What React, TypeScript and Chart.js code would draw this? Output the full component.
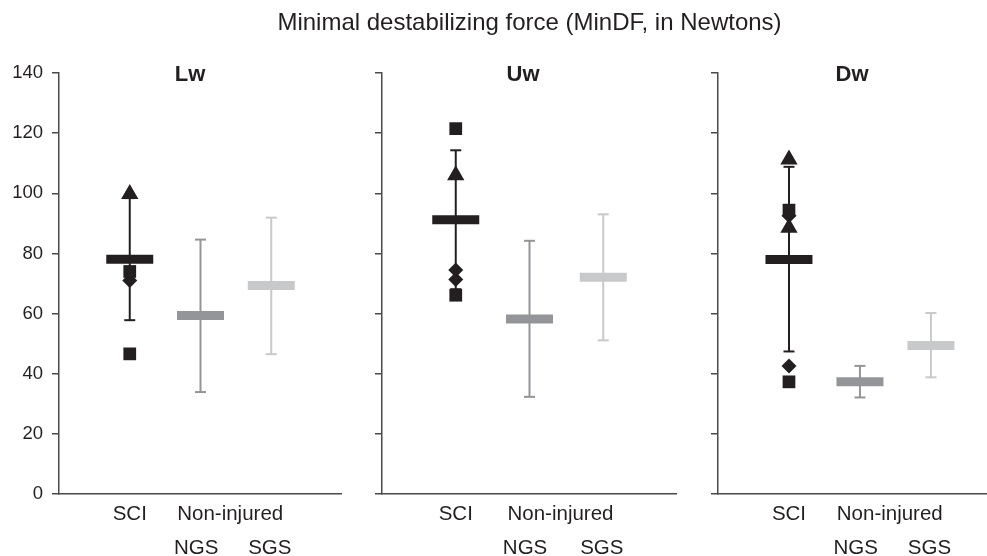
import React, { useEffect, useRef } from 'react';
import { Chart, registerables } from 'chart.js';

Chart.register(...registerables);

// ---------- text ----------
const MAIN_TITLE = 'Minimal destabilizing force (MinDF, in Newtons)';
const PANEL_TITLES = ['Lw', 'Uw', 'Dw'];
const GROUPS = ['SCI', 'NGS', 'SGS'];
const X_TICK_LABELS = [['SCI'], ['', 'NGS'], ['Non-injured'], ['', 'SGS']];
const Y_MIN = 0;
const Y_MAX = 140;
const Y_STEP = 20;

// ---------- data (Newtons) ----------
// group order: SCI, NGS, SGS
const LW_MEAN = [78.1, 59.4, 69.3];
const LW_LOW = [57.8, 33.9, 46.5];
const LW_HIGH = [98.4, 84.6, 91.9];
const LW_SQUARES = [74, 46.6];
const LW_TRIANGLES = [99.8];
const LW_DIAMONDS = [71];

const UW_MEAN = [91.2, 58.2, 72.1];
const UW_LOW = [68.1, 32.3, 51.1];
const UW_HIGH = [114.3, 84.2, 93.0];
const UW_SQUARES = [121.5, 66.1];
const UW_TRIANGLES = [106];
const UW_DIAMONDS = [74.5, 71.3];

const DW_MEAN = [78.0, 37.3, 49.4];
const DW_LOW = [47.4, 32.1, 38.8];
const DW_HIGH = [108.8, 42.6, 60.2];
const DW_SQUARES = [94.4, 37.3];
const DW_TRIANGLES = [111.2, 88.5];
const DW_DIAMONDS = [92.5, 42.6];

// ---------- styling / layout ----------
const GROUP_X = [1, 2, 3];
const X_TICK_POS = [1.0, 1.94, 2.42, 2.98];
const GROUP_COLORS = ['#231f20', '#939598', '#c8c9cb'];
const INK = '#231f20';
const AXIS = '#4a4a4a';
const FONT = '"Liberation Sans", Arial, Helvetica, sans-serif';
const CANVAS_H = 568;

const PANEL_DATA = [
  { mean: LW_MEAN, low: LW_LOW, high: LW_HIGH, squares: LW_SQUARES, triangles: LW_TRIANGLES, diamonds: LW_DIAMONDS },
  { mean: UW_MEAN, low: UW_LOW, high: UW_HIGH, squares: UW_SQUARES, triangles: UW_TRIANGLES, diamonds: UW_DIAMONDS },
  { mean: DW_MEAN, low: DW_LOW, high: DW_HIGH, squares: DW_SQUARES, triangles: DW_TRIANGLES, diamonds: DW_DIAMONDS },
];

const PANEL_LAYOUT = [
  { left: 0, width: 342, axisWidth: 59, xMax: 4, labels: true, titleX: 190 },
  { left: 342, width: 335, axisWidth: 40, xMax: 4, labels: false, titleX: 523 },
  { left: 677, width: 310, axisWidth: 41, xMax: 3.79, labels: false, titleX: 852 },
];

function buildConfig(idx: number): any {
  const d = PANEL_DATA[idx];
  const lay = PANEL_LAYOUT[idx];
  const sci = GROUP_X[0];
  const pts = (arr: number[]) => arr.map((v) => ({ x: sci, y: v }));

  const datasets: any[] = [
    {
      label: 'SCI squares',
      data: pts(d.squares),
      showLine: false,
      pointStyle: 'rect',
      pointRadius: 9,
      pointBackgroundColor: INK,
      pointBorderWidth: 0,
    },
    {
      label: 'SCI triangles',
      data: pts(d.triangles),
      showLine: false,
      pointStyle: 'triangle',
      pointRadius: 10,
      pointBackgroundColor: INK,
      pointBorderWidth: 0,
    },
    {
      label: 'SCI diamonds',
      data: pts(d.diamonds),
      showLine: false,
      pointStyle: 'rectRot',
      pointRadius: 7.5,
      pointBackgroundColor: INK,
      pointBorderWidth: 0,
    },
    {
      label: 'Mean',
      data: d.mean.map((m, i) => ({ x: GROUP_X[i], y: m })),
      showLine: false,
      pointStyle: 'line',
      pointRadius: 23.5,
      pointBorderWidth: 9,
      pointBorderColor: GROUP_COLORS,
      pointBackgroundColor: GROUP_COLORS,
    },
  ];
  GROUPS.forEach((g, i) => {
    datasets.push({
      label: g + ' SD',
      data: [
        { x: GROUP_X[i], y: d.low[i] },
        { x: GROUP_X[i], y: d.high[i] },
      ],
      showLine: true,
      borderColor: GROUP_COLORS[i],
      borderWidth: 2,
      pointStyle: 'line',
      pointRadius: 5.5,
      pointBorderWidth: 2,
      pointBorderColor: GROUP_COLORS[i],
    });
  });

  return {
    type: 'scatter',
    data: { datasets: datasets.map((ds) => ({ ...ds, clip: false })) },
    options: {
      animation: false,
      responsive: false,
      maintainAspectRatio: false,
      devicePixelRatio: 1,
      layout: { autoPadding: false, padding: { top: 73, left: 0, right: 0, bottom: 0 } },
      plugins: { legend: { display: false }, tooltip: { enabled: false }, title: { display: false } },
      elements: { line: { tension: 0 } },
      scales: {
        x: {
          type: 'linear',
          min: 0,
          max: lay.xMax,
          grid: { display: true, drawOnChartArea: false, drawTicks: false },
          border: { display: true, color: AXIS, width: 1.5 },
          afterBuildTicks: (scale: any) => {
            scale.ticks = X_TICK_POS.map((v) => ({ value: v }));
          },
          afterFit: (scale: any) => {
            scale.paddingLeft = 0;
            scale.paddingRight = 0;
          },
          ticks: {
            autoSkip: false,
            maxRotation: 0,
            minRotation: 0,
            padding: 3,
            color: INK,
            font: { family: FONT, size: 20.5, lineHeight: '34px' },
            callback: (_v: any, i: number) => X_TICK_LABELS[i],
          },
        },
        y: {
          type: 'linear',
          min: Y_MIN,
          max: Y_MAX,
          afterFit: (scale: any) => {
            scale.width = lay.axisWidth;
          },
          grid: {
            display: true,
            drawOnChartArea: false,
            drawTicks: true,
            tickLength: 7,
            color: AXIS,
            lineWidth: 1.5,
          },
          border: { display: true, color: AXIS, width: 1.5 },
          ticks: {
            display: lay.labels,
            stepSize: Y_STEP,
            padding: 9,
            color: INK,
            font: { family: FONT, size: 18.5 },
          },
        },
      },
    },
  };
}

function Panel({ idx }: { idx: number }) {
  const ref = useRef<HTMLCanvasElement | null>(null);
  const lay = PANEL_LAYOUT[idx];
  useEffect(() => {
    if (!ref.current) return;
    const chart = new Chart(ref.current, buildConfig(idx));
    return () => chart.destroy();
  }, [idx]);
  return (
    <canvas
      ref={ref}
      width={lay.width}
      height={CANVAS_H}
      style={{ position: 'absolute', left: lay.left, top: 0, width: lay.width, height: CANVAS_H, display: 'block' }}
    />
  );
}

const centered = (x: number, y: number, size: number, weight: number): React.CSSProperties => ({
  position: 'absolute',
  left: x,
  top: y,
  transform: 'translate(-50%, -50%)',
  fontFamily: FONT,
  fontSize: size,
  fontWeight: weight,
  lineHeight: 1,
  whiteSpace: 'nowrap',
  color: INK,
});

export default function App() {
  return (
    <div
      style={{
        position: 'fixed',
        left: 0,
        top: 0,
        width: 987,
        height: 556,
        overflow: 'hidden',
        background: '#ffffff',
      }}
    >
      {PANEL_LAYOUT.map((_, i) => (
        <Panel key={i} idx={i} />
      ))}
      <div style={centered(529.5, 22, 24, 400)}>{MAIN_TITLE}</div>
      {PANEL_TITLES.map((t, i) => (
        <div key={t} style={centered(PANEL_LAYOUT[i].titleX, 74, 22, 700)}>
          {t}
        </div>
      ))}
    </div>
  );
}
